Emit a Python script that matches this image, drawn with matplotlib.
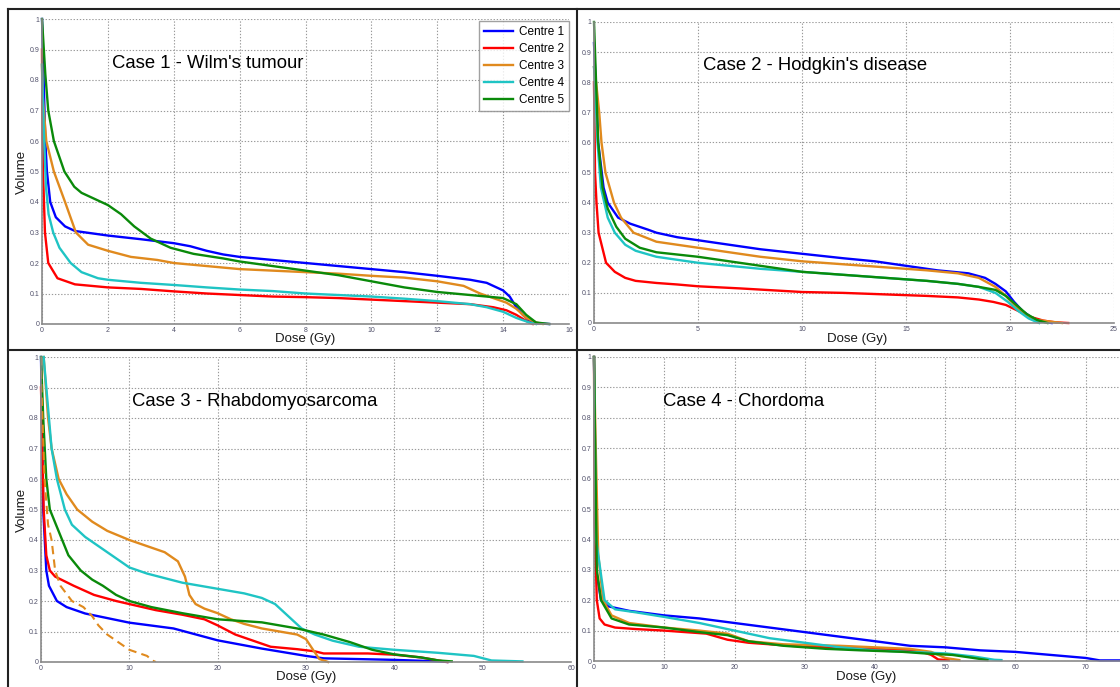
import matplotlib
matplotlib.use("Agg")
import matplotlib.pyplot as plt
from matplotlib.lines import Line2D

plt.rcParams['font.family'] = ['Liberation Sans', 'DejaVu Sans']

centres = ["Centre 1", "Centre 2", "Centre 3", "Centre 4", "Centre 5"]
colors = ["#0000ff", "#ff0000", "#e08a1e", "#1fc4c4", "#0a8a0a"]
titles = ["Case 1 - Wilm's tumour", "Case 2 - Hodgkin's disease",
          "Case 3 - Rhabdomyosarcoma", "Case 4 - Chordoma"]

# ---- Case 1 (dose Gy, volume fraction) ----
c1_dose = [
    [0, 0.05, 0.1, 0.15, 0.25, 0.42, 0.7, 0.9, 1, 2, 3, 4, 4.5, 5, 5.5, 6, 7, 8, 9, 10, 11, 12, 13, 13.5, 14, 14.2, 14.4, 14.6, 14.8, 15, 15.4],
    [0, 0.01, 0.03, 0.09, 0.19, 0.47, 1.0, 2, 3, 4, 5, 6, 7, 8, 9, 10, 11, 12, 13, 13.7, 14.1, 14.4, 14.7, 14.9],
    [0, 0.02, 0.13, 0.36, 0.7, 1.03, 1.4, 2, 2.7, 3.5, 4, 5, 6, 7, 8, 9, 10, 11, 12, 12.8, 13.3, 13.7, 14.1, 14.4, 14.7, 15, 15.2],
    [0, 0.05, 0.12, 0.2, 0.34, 0.53, 0.87, 1.2, 1.7, 2, 3, 4, 5, 6, 7, 8, 9, 10, 11, 12, 13, 13.5, 14, 14.4, 14.8, 15],
    [0, 0.1, 0.19, 0.36, 0.68, 0.98, 1.2, 1.6, 2, 2.4, 2.8, 3.3, 3.9, 4.6, 5.5, 6, 7, 8, 9, 10, 11, 12, 13, 14, 14.4, 14.7, 15, 15.4],
]
c1_vol = [
    [1.0, 0.8, 0.6, 0.5, 0.4, 0.35, 0.32, 0.31, 0.305, 0.29, 0.278, 0.265, 0.255, 0.24, 0.228, 0.22, 0.21, 0.2, 0.19, 0.18, 0.17, 0.158, 0.145, 0.135, 0.11, 0.09, 0.055, 0.03, 0.01, 0.002, 0.0],
    [0.9, 0.7, 0.5, 0.3, 0.2, 0.15, 0.13, 0.12, 0.115, 0.107, 0.1, 0.095, 0.09, 0.088, 0.085, 0.08, 0.075, 0.07, 0.065, 0.055, 0.045, 0.03, 0.01, 0.0],
    [0.85, 0.75, 0.6, 0.5, 0.4, 0.3, 0.26, 0.24, 0.22, 0.21, 0.2, 0.19, 0.18, 0.175, 0.17, 0.165, 0.158, 0.152, 0.14, 0.125, 0.1, 0.085, 0.07, 0.05, 0.02, 0.005, 0.0],
    [0.85, 0.65, 0.45, 0.36, 0.3, 0.25, 0.2, 0.17, 0.15, 0.145, 0.135, 0.128, 0.12, 0.113, 0.108, 0.1, 0.095, 0.09, 0.083, 0.075, 0.065, 0.055, 0.04, 0.02, 0.005, 0.0],
    [1.0, 0.82, 0.7, 0.6, 0.5, 0.45, 0.43, 0.41, 0.39, 0.36, 0.32, 0.28, 0.25, 0.23, 0.215, 0.205, 0.19, 0.175, 0.16, 0.14, 0.12, 0.105, 0.095, 0.085, 0.065, 0.03, 0.005, 0.0],
]

# ---- Case 2 ----
c2_dose = [
    [0, 0.2, 0.46, 0.66, 1.16, 1.74, 2.6, 3, 4, 5, 6.5, 8, 10, 12, 13.5, 15, 16.5, 18, 18.8, 19.3, 19.8, 20.2, 20.6, 21, 21.5, 22],
    [0, 0.05, 0.12, 0.22, 0.58, 1.0, 1.5, 2, 3, 4, 5, 7, 9, 10, 12, 14, 16, 17.5, 18.5, 19.2, 19.8, 20.4, 21, 21.6, 22.2, 22.8],
    [0, 0.1, 0.25, 0.36, 0.55, 0.96, 1.3, 1.9, 3, 5, 6.5, 8, 10, 12, 14, 16, 17.5, 18.5, 19.3, 19.8, 20.2, 20.7, 21.3, 22.5],
    [0, 0.05, 0.17, 0.33, 0.66, 1.0, 1.5, 2, 3, 4, 5, 6.5, 8, 10, 12, 14, 16, 17.5, 18.5, 19.3, 19.9, 20.4, 20.9, 21.4],
    [0, 0.2, 0.41, 0.66, 1.07, 1.5, 2.2, 3, 5, 6.5, 8, 10, 12, 14, 16, 17.5, 18.5, 19.3, 19.8, 20.3, 20.8, 21.3, 21.8],
]
c2_vol = [
    [0.93, 0.6, 0.45, 0.4, 0.35, 0.33, 0.31, 0.3, 0.285, 0.275, 0.26, 0.245, 0.23, 0.215, 0.205, 0.19, 0.175, 0.165, 0.15, 0.13, 0.105, 0.07, 0.04, 0.02, 0.005, 0.0],
    [0.8, 0.5, 0.4, 0.3, 0.2, 0.17, 0.15, 0.14, 0.133, 0.128, 0.122, 0.115, 0.107, 0.103, 0.1, 0.095, 0.09, 0.085, 0.078, 0.07, 0.06, 0.04, 0.02, 0.008, 0.002, 0.0],
    [0.85, 0.8, 0.7, 0.6, 0.5, 0.4, 0.35, 0.3, 0.27, 0.25, 0.235, 0.22, 0.205, 0.195, 0.185, 0.175, 0.165, 0.15, 0.12, 0.09, 0.06, 0.03, 0.01, 0.0],
    [0.85, 0.8, 0.6, 0.45, 0.35, 0.3, 0.26, 0.24, 0.22, 0.21, 0.2, 0.19, 0.18, 0.17, 0.16, 0.15, 0.14, 0.13, 0.12, 0.1, 0.07, 0.04, 0.015, 0.0],
    [1.0, 0.6, 0.45, 0.38, 0.32, 0.28, 0.25, 0.235, 0.22, 0.205, 0.19, 0.17, 0.16, 0.15, 0.14, 0.13, 0.12, 0.11, 0.09, 0.06, 0.03, 0.01, 0.0],
]

# ---- Case 3 ----
c3_dose = [
    [0, 0.1, 0.2, 0.25, 0.6, 0.9, 1.8, 2.9, 5, 10, 15, 20, 25, 30, 32, 40, 45, 46],
    [0, 0.15, 0.3, 0.6, 1.0, 1.6, 3.7, 6, 8.5, 10, 13, 16, 18.5, 20, 22, 24, 26, 29, 31, 32, 37, 40, 43, 45, 46],
    [0.3, 0.8, 1.2, 2, 2.9, 4.1, 5.8, 7.5, 10, 12, 14, 15.5, 16.3, 16.8, 17.5, 18.5, 20, 21.5, 23, 25, 27, 29, 30, 30.8, 31.5, 32.5],
    [0.3, 0.6, 0.9, 1.2, 1.8, 2.7, 3.5, 5, 6.5, 8.5, 10, 12, 14, 16, 18, 20, 23, 25, 26.5, 28, 29.5, 31, 33, 36, 40, 45, 49, 51, 54.5],
    [0, 0.25, 0.6, 1.0, 2.4, 3.1, 4.5, 5.8, 7, 8.5, 10, 12.5, 16, 20, 25, 29, 32, 35, 37.5, 40, 43, 45, 46.5],
]
c3_vol = [
    [1.0, 0.8, 0.6, 0.5, 0.3, 0.25, 0.2, 0.18, 0.159, 0.129, 0.11, 0.071, 0.044, 0.02, 0.012, 0.007, 0.002, 0.0],
    [0.9, 0.7, 0.5, 0.35, 0.3, 0.28, 0.25, 0.22, 0.2, 0.19, 0.17, 0.155, 0.14, 0.12, 0.09, 0.07, 0.05, 0.042, 0.035, 0.028, 0.028, 0.024, 0.015, 0.005, 0.0],
    [1.0, 0.8, 0.7, 0.6, 0.55, 0.5, 0.46, 0.43, 0.4, 0.38, 0.36, 0.33, 0.28, 0.22, 0.19, 0.175, 0.16, 0.14, 0.125, 0.11, 0.1, 0.09, 0.075, 0.04, 0.01, 0.0],
    [1.0, 0.9, 0.8, 0.7, 0.6, 0.5, 0.45, 0.41, 0.38, 0.34, 0.31, 0.29, 0.275, 0.26, 0.25, 0.24, 0.225, 0.21, 0.19, 0.15, 0.11, 0.09, 0.07, 0.05, 0.04, 0.03, 0.02, 0.005, 0.002],
    [1.0, 0.8, 0.6, 0.5, 0.4, 0.35, 0.3, 0.27, 0.25, 0.22, 0.2, 0.18, 0.16, 0.14, 0.13, 0.11, 0.09, 0.065, 0.04, 0.025, 0.015, 0.005, 0.002],
]
# Case 3, Centre 3 second (dashed) curve
c3_dash_dose = [0, 0.05, 0.4, 0.8, 1.2, 1.6, 2.2, 3.5, 4.8, 5.8, 6.5, 7.5, 8.5, 10, 11, 12, 12.6, 13]
c3_dash_vol = [1.0, 0.9, 0.6, 0.45, 0.4, 0.3, 0.25, 0.2, 0.18, 0.15, 0.12, 0.09, 0.07, 0.04, 0.03, 0.02, 0.005, 0.0]

# ---- Case 4 ----
c4_dose = [
    [0, 0.3, 1.0, 2, 5, 10, 15, 20, 25, 30, 35, 40, 45, 50, 55, 60, 65, 70, 72, 77],
    [0, 0.1, 0.4, 0.8, 1.5, 3, 6, 10, 13, 16, 19, 22, 28, 33, 40, 46, 48, 49, 50.5],
    [0, 0.2, 0.6, 1.3, 2.5, 5, 10, 15, 19, 22, 27, 35, 40, 45, 48, 50, 52],
    [0, 0.3, 1.5, 3, 6, 10, 15, 20, 25, 30, 35, 40, 45, 50, 54, 57, 58],
    [0, 0.4, 1.0, 2.5, 5, 10, 15, 19, 22, 27, 33, 38, 44, 47, 51, 54, 56],
]
c4_vol = [
    [1.0, 0.3, 0.2, 0.18, 0.165, 0.15, 0.14, 0.125, 0.11, 0.095, 0.08, 0.065, 0.05, 0.045, 0.035, 0.03, 0.02, 0.01, 0.002, 0.002],
    [1.0, 0.45, 0.2, 0.14, 0.12, 0.11, 0.105, 0.1, 0.095, 0.09, 0.07, 0.06, 0.05, 0.045, 0.04, 0.035, 0.02, 0.005, 0.003],
    [1.0, 0.75, 0.35, 0.2, 0.15, 0.125, 0.11, 0.1, 0.09, 0.065, 0.055, 0.05, 0.045, 0.04, 0.03, 0.01, 0.003],
    [1.0, 0.4, 0.2, 0.17, 0.16, 0.145, 0.125, 0.1, 0.075, 0.06, 0.045, 0.035, 0.03, 0.025, 0.015, 0.004, 0.003],
    [1.0, 0.3, 0.2, 0.14, 0.12, 0.11, 0.095, 0.085, 0.065, 0.05, 0.04, 0.035, 0.03, 0.025, 0.02, 0.01, 0.003],
]

W, H = 1120, 687
fig = plt.figure(figsize=(W / 100, H / 100), dpi=100)
fig.patch.set_facecolor("white")


def px_axes(left, right, top, bottom):
    return fig.add_axes([left / W, 1 - bottom / H, (right - left) / W, (bottom - top) / H])


panels = [
    dict(box=(42, 569, 19, 324), xlim=16, xticks=range(0, 17, 2), dose=c1_dose, vol=c1_vol,
         title_xy=(112, 63), ylabel=True, xlabel_xy=(305, 339)),
    dict(box=(594, 1114, 22, 323), xlim=25, xticks=range(0, 26, 5), dose=c2_dose, vol=c2_vol,
         title_xy=(703, 65), ylabel=False, xlabel_xy=(857, 339)),
    dict(box=(41, 571, 357, 662), xlim=60, xticks=range(0, 61, 10), dose=c3_dose, vol=c3_vol,
         title_xy=(132, 402), ylabel=True, xlabel_xy=(306, 677)),
    dict(box=(594, 1156, 357, 661), xlim=80, xticks=range(0, 71, 10), dose=c4_dose, vol=c4_vol,
         title_xy=(663, 402), ylabel=False, xlabel_xy=(866, 677)),
]

tick_color = "#50506a"
spine_color = "#8a8a8a"

axes = []
for i, p in enumerate(panels):
    ax = px_axes(*p["box"])
    axes.append(ax)
    ax.set_xlim(0, p["xlim"])
    ax.set_ylim(0, 1)
    ax.set_xticks(list(p["xticks"]))
    ax.set_yticks([k / 10 for k in range(11)])
    ax.set_yticklabels(["0"] + ["0.%d" % k for k in range(1, 10)] + ["1"])
    ax.set_xticklabels([str(t) for t in p["xticks"]])
    ax.tick_params(labelsize=5, colors=tick_color, length=0, pad=2)
    for s in ["top", "right"]:
        ax.spines[s].set_visible(False)
    for s in ["left", "bottom"]:
        ax.spines[s].set_color(spine_color)
        ax.spines[s].set_linewidth(1.2)
    ax.grid(True, linestyle=(0, (1.2, 1.6)), color="#9a9a9a", linewidth=0.8)
    ax.set_axisbelow(True)
    for j in range(5):
        ax.plot(p["dose"][j], p["vol"][j], color=colors[j], lw=1.7, label=centres[j],
                solid_joinstyle="round", clip_on=False)
    if i == 2:
        ax.plot(c3_dash_dose, c3_dash_vol, color=colors[2], lw=1.5, linestyle=(0, (4, 2.5)))
    fig.text(p["title_xy"][0] / W, 1 - p["title_xy"][1] / H, titles[i], fontsize=13.3,
             ha="left", va="center", color="black")
    fig.text(p["xlabel_xy"][0] / W, 1 - p["xlabel_xy"][1] / H, "Dose (Gy)", fontsize=9.5,
             ha="center", va="center", color="#1a1a1a")
    if p["ylabel"]:
        cy = (p["box"][2] + p["box"][3]) / 2
        fig.text(22 / W, 1 - cy / H, "Volume", fontsize=9.5, rotation=90,
                 ha="center", va="center", color="#1a1a1a")

leg = axes[0].legend(loc="upper right", bbox_to_anchor=(569 / W, 1 - 21 / H),
                     bbox_transform=fig.transFigure, fontsize=8.5, frameon=True,
                     fancybox=False, edgecolor="#8a8a8a", handlelength=2.4,
                     handletextpad=0.5, labelspacing=0.42, borderpad=0.45,
                     borderaxespad=0)
leg.get_frame().set_linewidth(1.0)

# panel frames
def fig_line(x0, y0, x1, y1, lw=1.5):
    fig.add_artist(Line2D([x0 / W, x1 / W], [1 - y0 / H, 1 - y1 / H], color="#222222", lw=lw))

fig_line(8, 9, 1120, 9)
fig_line(8, 9, 8, 687)
fig_line(577, 9, 577, 687)
fig_line(8, 349.5, 1120, 349.5)

fig.savefig("out.png", dpi=100, facecolor="white")
